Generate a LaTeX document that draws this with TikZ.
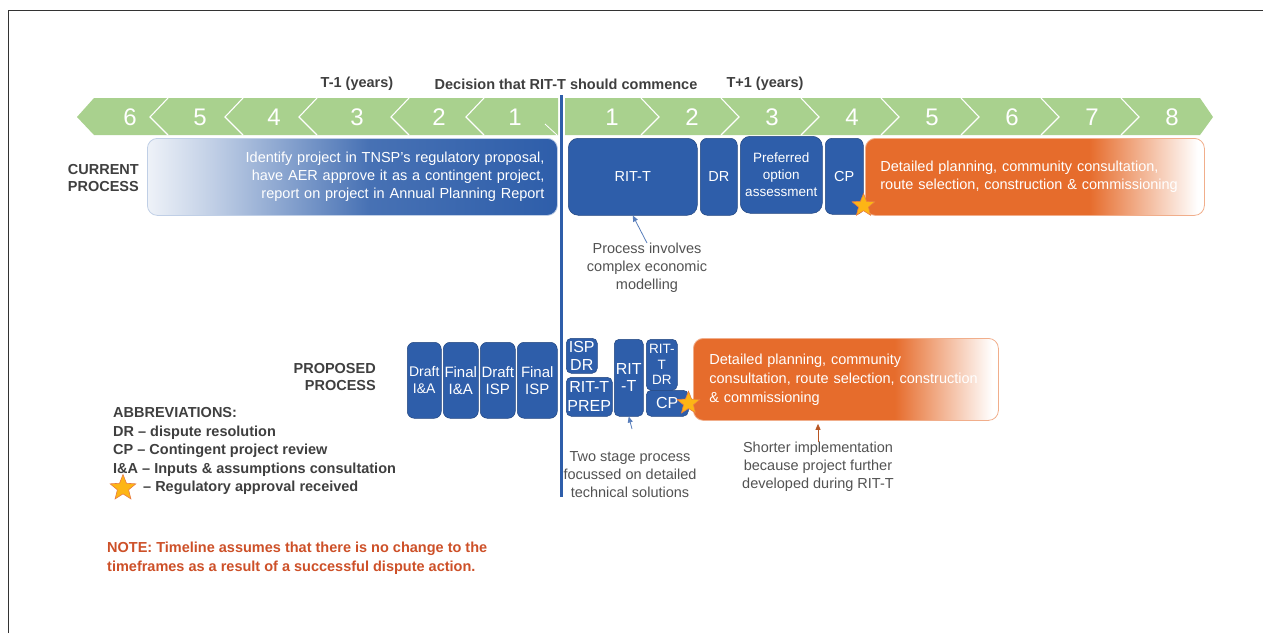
\documentclass[tikz,border=0pt]{standalone}
\usepackage{fontspec}
\setmainfont{Liberation Sans}
\usepackage{xcolor}
\usepackage{tikz}
\usetikzlibrary{shapes,arrows,positioning,calc,arrows.meta}

\definecolor{yeargreen}{HTML}{A9D18E}
\definecolor{procblue}{HTML}{2E5EAA}
\definecolor{procorange}{HTML}{E66C2C}
\definecolor{textgray}{HTML}{3F3F3F}
\definecolor{notered}{HTML}{CD5028}
\definecolor{stargold}{HTML}{FDB515}

\pgfdeclarehorizontalshading{blue fade}{100bp}{color(0bp)=(procblue!8); color(25bp)=(procblue!8); color(33bp)=(procblue!30); color(52bp)=(procblue!88); color(75bp)=(procblue); color(100bp)=(procblue)}
\pgfdeclarehorizontalshading{orange fade}{100bp}{color(0bp)=(procorange); color(25bp)=(procorange); color(58bp)=(procorange); color(74bp)=(white); color(100bp)=(white)}

\begin{document}
\begin{tikzpicture}[x=1pt, y=-1pt,
  year num/.style={text=white, font=\fontsize{24}{24}\selectfont},
  chevron line/.style={draw=white, line width=1.1pt},
  head label/.style={text=textgray, font=\bfseries\fontsize{14.5}{17}\selectfont},
  side label/.style={text=textgray, align=right, anchor=east, inner sep=0pt, font=\bfseries\fontsize{14.5}{16.5}\selectfont},
  proc box/.style={rectangle, rounded corners=7pt, fill=procblue, draw=procblue!75!black, line width=0.5pt, text=white, align=center, inner sep=1pt, anchor=north west, font=\fontsize{14.5}{18}\selectfont},
  fade box/.style={rectangle, rounded corners=10pt, anchor=north west, line width=0.8pt, text=white},
  note text/.style={text=textgray!90, align=center, inner sep=0pt, font=\fontsize{14.5}{18}\selectfont},
  abbr text/.style={text=textgray, align=left, inner sep=0pt, font=\bfseries\fontsize{14.5}{18.8}\selectfont},
  approval star/.style={star, star points=5, star point ratio=2.3, fill=stargold, draw=procorange!90, line width=0.6pt, inner sep=0pt},
  note arrow/.style={-{Triangle[length=6pt,width=5pt]}, line width=0.8pt}]

  \useasboundingbox (0,0) rectangle (1263,633);
  \draw[black!80, line width=1pt] (8,633) -- (8,10) -- (1263,10);

  % year band
  \fill[yeargreen] (77,117) -- (94,98) -- (558,98) -- (558,135) -- (94,135) -- cycle;
  \fill[yeargreen] (565,98) -- (1200,98) -- (1213,117) -- (1200,135) -- (565,135) -- cycle;
  \foreach \v in {150,225,299,391,466}
    \draw[chevron line] (\v+18,98) -- (\v,117) -- (\v+18,135);
  \draw[chevron line, line width=0.8pt] (545,124) -- (557,135);
  \foreach \v in {659,739,819,899,979,1059,1139}
    \draw[chevron line] (\v-18,98) -- (\v,117) -- (\v-18,135);
  \foreach \n/\x in {6/130,5/200,4/274,3/357,2/439,1/515}
    \node[year num] (YearL\n) at (\x,117) {\n};
  \foreach \n in {1,...,8}
    \node[year num] (YearR\n) at ({532+80*\n},117) {\n};

  \node[head label] (TMinus) at (357,84) {T-1 (years)};
  \node[head label] (Decision) at (566,84) {Decision that RIT-T should commence};
  \node[head label] (TPlus) at (765,84) {T+1 (years)};

  % current process
  \node[side label] (CurLabel) at (139,178) {CURRENT\\PROCESS};
  \node[fade box, shading=blue fade, draw=procblue!30, text width=384pt, inner xsep=13pt, minimum height=77pt, align=right,
        font=\fontsize{14.5}{18}\selectfont] (CurIdentify) at (147,138)
    {Identify project in TNSP's regulatory proposal,\\have AER approve it as a contingent project,\\report on project in Annual Planning Report};
  \node[proc box, rounded corners=10pt, minimum width=129pt, minimum height=77pt] (CurRITT) at (568,138) {RIT-T};
  \node[proc box, minimum width=37pt, minimum height=77pt] (CurDR) at (700,138) {DR};
  \node[proc box, rounded corners=10pt, minimum width=82pt, minimum height=77pt, font=\fontsize{13.5}{17}\selectfont] (CurPref) at (740,136) {Preferred\\option\\assessment};
  \node[proc box, minimum width=38pt, minimum height=76pt] (CurCP) at (825,138) {CP};
  \node[fade box, shading=orange fade, draw=procorange!55, text width=309pt, inner xsep=15pt, minimum height=77pt, align=left,
        font=\fontsize{14.5}{18}\selectfont] (CurDetail) at (865,138)
    {Detailed planning, community consultation,\\route selection, construction \& commissioning};
  \node[approval star, minimum size=24pt] (CurStar) at ([yshift=9pt]CurCP.south east) {};

  \node[note text] (ComplexNote) at (647,268) {Process involves\\complex economic\\modelling};
  \draw[note arrow, procblue!80] (ComplexNote.north) -- (CurRITT.south);

  % proposed process
  \node[side label] (PropLabel) at (376,377) {PROPOSED\\PROCESS};
  \node[proc box, minimum width=34pt, minimum height=76pt, font=\fontsize{14}{17}\selectfont] (PropDraftIA) at (407,342) {Draft\\I\&A};
  \node[proc box, minimum width=35pt, minimum height=76pt, font=\fontsize{15}{17}\selectfont] (PropFinalIA) at (443,342) {Final\\I\&A};
  \node[proc box, minimum width=35pt, minimum height=76pt, font=\fontsize{15}{17}\selectfont] (PropDraftISP) at (480,342) {Draft\\ISP};
  \node[proc box, minimum width=40pt, minimum height=76pt, font=\fontsize{15}{17}\selectfont] (PropFinalISP) at (517,342) {Final\\ISP};
  \node[proc box, rounded corners=5pt, minimum width=31pt, minimum height=35pt, font=\fontsize{16}{18}\selectfont] (PropISPDR) at (566,338) {ISP\\DR};
  \node[proc box, rounded corners=5pt, minimum width=46pt, minimum height=39pt, font=\fontsize{16}{19}\selectfont] (PropPrep) at (566,377) {RIT-T\\PREP};
  \node[proc box, rounded corners=5pt, minimum width=29pt, minimum height=77pt, font=\fontsize{16}{17}\selectfont] (PropRITT) at (614,339) {RIT\\-T};
  \node[proc box, rounded corners=5pt, minimum width=31pt, minimum height=51pt, font=\fontsize{13.5}{15.5}\selectfont] (PropRITTDR) at (646,339) {RIT-\\T\\DR};
  \node[proc box, rounded corners=5pt, minimum width=42pt, minimum height=26pt, font=\fontsize{16}{18}\selectfont] (PropCP) at (646,390) {CP};
  \node[fade box, shading=orange fade, draw=procorange!55, text width=273pt, inner xsep=16pt, minimum height=82pt, align=left,
        font=\fontsize{14.5}{19}\selectfont] (PropDetail) at (693,338)
    {Detailed planning, community\\consultation, route selection, construction\\\& commissioning};
  \node[approval star, minimum size=24pt] (PropStar) at (PropCP.east) {};

  \coordinate (TwoStageTail) at (632,429);
  \draw[note arrow, procblue!80] (TwoStageTail) -- (PropRITT.south);
  \node[note text] (TwoStageNote) at (630,475) {Two stage process\\focussed on detailed\\technical solutions};
  \node[note text] (ShorterNote) at (818,467) {Shorter implementation\\because project further\\developed during RIT-T};
  \draw[note arrow, procorange!80!black, shorten >=3pt] (ShorterNote.north) -- (ShorterNote.north |- PropDetail.south);

  % decision line
  \draw[procblue, line width=3pt] (561,95) -- (561,497);

  % abbreviations
  \node[abbr text, anchor=north west] (Abbrev) at (113,407)
    {ABBREVIATIONS:\\DR -- dispute resolution\\CP -- Contingent project review\\I\&A -- Inputs \& assumptions consultation};
  \node[approval star, minimum size=27pt] (LegendStar) at (123,488) {};
  \node[abbr text, anchor=west] (LegendText) at (143,488) {-- Regulatory approval received};

  \node[abbr text, text=notered, anchor=north west, font=\bfseries\fontsize{14.5}{19}\selectfont] (Note) at (107,542)
    {NOTE: Timeline assumes that there is no change to the\\timeframes as a result of a successful dispute action.};
\end{tikzpicture}
\end{document}
